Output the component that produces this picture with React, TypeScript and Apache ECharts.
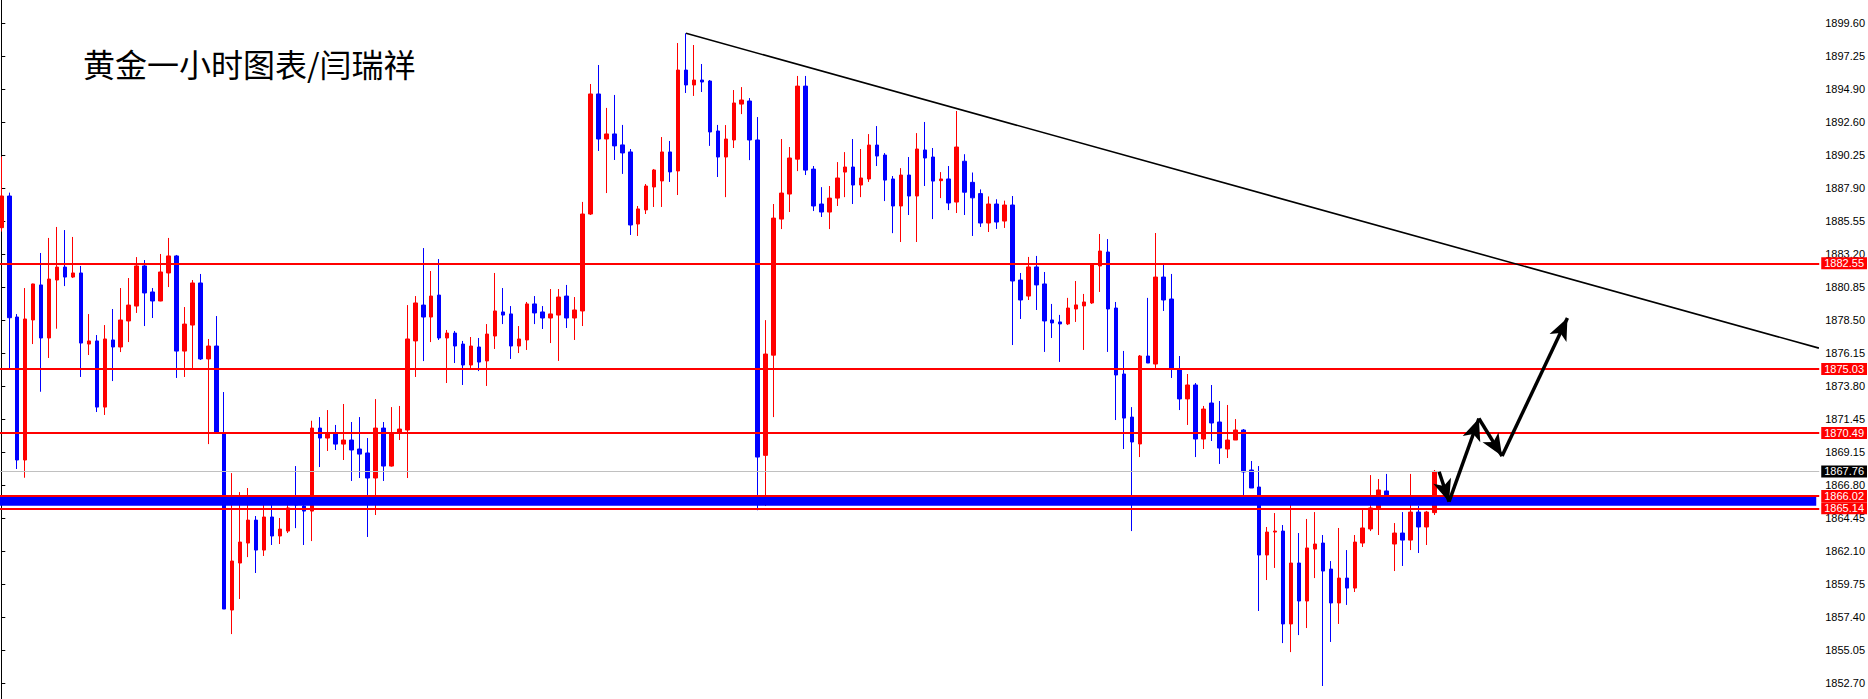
import React, { useEffect, useRef } from "react";
import * as echarts from "echarts";

// ---- Candle data (hourly gold) ----
const opens = [
  1885.08, 1887.33, 1878.73, 1868.57, 1878.52, 1881.01, 1877.24, 1881.36, 1882.28, 1881.57,
  1881.86, 1876.81, 1877.03, 1872.33, 1877.10, 1876.60, 1878.45, 1879.51, 1882.36, 1880.51,
  1879.87, 1881.86, 1883.07, 1876.31, 1878.16, 1881.15, 1875.75, 1876.67, 1870.49, 1857.91,
  1861.25, 1862.67, 1864.30, 1862.17, 1864.52, 1863.17, 1863.52, 1865.61, 1865.30, 1864.94,
  1870.84, 1870.13, 1870.49, 1869.70, 1869.99, 1869.35, 1869.07, 1867.29, 1870.84, 1868.14,
  1870.49, 1870.70, 1877.03, 1879.58, 1878.73, 1880.29, 1877.24, 1877.59, 1876.81, 1875.32,
  1876.60, 1875.61, 1877.38, 1879.09, 1878.95, 1876.67, 1877.10, 1879.66, 1879.09, 1878.66,
  1878.87, 1880.22, 1878.66, 1879.16, 1886.05, 1894.58, 1891.38, 1891.74, 1890.96, 1890.46,
  1885.34, 1886.34, 1887.97, 1888.40, 1890.46, 1889.11, 1896.28, 1895.22, 1895.57, 1895.50,
  1891.95, 1890.10, 1891.31, 1893.86, 1894.08, 1891.31, 1868.90, 1876.02, 1885.69, 1887.47,
  1889.95, 1895.14, 1889.24, 1886.76, 1886.19, 1887.18, 1889.03, 1889.39, 1888.11, 1888.54,
  1890.95, 1890.24, 1888.54, 1886.62, 1888.82, 1887.33, 1890.60, 1890.10, 1888.42, 1888.54,
  1886.90, 1889.80, 1888.30, 1887.50, 1885.41, 1886.76, 1885.55, 1886.69, 1881.36, 1880.22,
  1882.29, 1881.08, 1878.52, 1878.38, 1878.24, 1879.30, 1879.52, 1879.73, 1882.36, 1883.35,
  1879.37, 1874.68, 1871.62, 1869.71, 1875.96, 1875.39, 1881.57, 1880.01, 1875.04, 1872.91,
  1873.90, 1870.06, 1872.62, 1871.27, 1869.35, 1869.99, 1870.70, 1867.86, 1866.65, 1861.82,
  1863.45, 1863.52, 1856.92, 1861.25, 1858.55, 1862.24, 1862.67, 1860.82, 1858.41, 1860.18,
  1859.47, 1862.67, 1863.67, 1865.16, 1866.37, 1862.60, 1863.38, 1862.88, 1864.87, 1863.81,
  1864.83,
];

const closes = [
  1887.33, 1878.68, 1868.57, 1878.59, 1881.08, 1877.24, 1881.43, 1882.28, 1881.57, 1881.86,
  1876.88, 1877.03, 1872.33, 1877.17, 1876.60, 1878.52, 1879.58, 1882.36, 1880.44, 1879.87,
  1881.93, 1883.07, 1876.31, 1878.23, 1881.15, 1875.75, 1876.67, 1870.49, 1857.98, 1861.39,
  1862.74, 1864.30, 1862.17, 1864.52, 1863.17, 1863.66, 1865.16, 1865.37, 1864.94, 1870.84,
  1870.13, 1870.49, 1869.70, 1869.99, 1869.28, 1868.99, 1867.29, 1870.84, 1868.14, 1870.49,
  1870.77, 1877.17, 1879.73, 1878.73, 1880.22, 1877.24, 1877.59, 1876.67, 1875.32, 1876.67,
  1875.53, 1877.52, 1879.16, 1878.87, 1876.67, 1877.17, 1879.66, 1879.02, 1878.66, 1878.95,
  1880.15, 1878.66, 1879.23, 1886.05, 1894.58, 1891.38, 1891.74, 1890.89, 1890.39, 1885.27,
  1886.41, 1888.04, 1889.18, 1890.46, 1889.04, 1896.28, 1895.22, 1895.57, 1895.43, 1891.88,
  1890.10, 1891.38, 1893.94, 1894.15, 1891.31, 1868.78, 1876.10, 1885.76, 1887.54, 1890.03,
  1895.14, 1889.17, 1886.62, 1886.19, 1887.18, 1888.61, 1889.39, 1888.11, 1888.61, 1890.95,
  1890.17, 1888.46, 1886.62, 1888.82, 1887.33, 1890.67, 1890.03, 1888.39, 1888.54, 1886.83,
  1890.81, 1887.60, 1887.20, 1885.41, 1886.76, 1885.48, 1886.69, 1881.29, 1879.94, 1882.29,
  1881.01, 1878.45, 1878.31, 1878.24, 1879.37, 1879.59, 1879.80, 1882.43, 1883.42, 1879.30,
  1874.61, 1871.55, 1869.85, 1875.96, 1875.46, 1881.57, 1879.94, 1875.04, 1872.91, 1873.90,
  1870.06, 1872.19, 1871.20, 1869.42, 1869.99, 1870.70, 1867.72, 1866.58, 1861.82, 1863.45,
  1863.52, 1856.92, 1861.25, 1858.55, 1862.32, 1862.60, 1860.68, 1858.41, 1860.18, 1859.47,
  1862.74, 1863.74, 1865.16, 1866.44, 1866.08, 1863.38, 1862.88, 1864.87, 1863.81, 1864.87,
  1867.76,
];

const lows = [
  1884.80, 1875.08, 1867.93, 1867.31, 1876.81, 1873.42, 1875.82, 1877.90, 1880.93, 1881.50,
  1874.47, 1876.03, 1871.98, 1871.77, 1874.18, 1876.24, 1876.95, 1879.02, 1878.09, 1878.66,
  1879.85, 1880.86, 1874.40, 1874.47, 1875.04, 1875.68, 1869.70, 1870.49, 1857.98, 1856.20,
  1858.69, 1861.67, 1860.54, 1861.75, 1862.53, 1862.60, 1863.38, 1863.73, 1862.53, 1862.81,
  1868.07, 1869.21, 1869.28, 1868.57, 1867.08, 1867.29, 1863.10, 1864.66, 1867.08, 1868.10,
  1869.99, 1867.29, 1874.47, 1875.60, 1876.95, 1877.10, 1874.04, 1875.46, 1873.90, 1875.11,
  1874.89, 1873.83, 1876.46, 1878.23, 1875.75, 1876.17, 1876.39, 1878.23, 1877.88, 1876.88,
  1875.61, 1877.95, 1877.10, 1878.09, 1885.98, 1890.53, 1887.54, 1889.89, 1888.90, 1884.56,
  1884.49, 1886.05, 1886.55, 1886.55, 1888.33, 1887.40, 1894.65, 1894.44, 1894.72, 1890.89,
  1888.68, 1887.25, 1890.74, 1893.15, 1889.88, 1865.00, 1865.30, 1871.62, 1884.98, 1886.19,
  1889.10, 1888.82, 1886.26, 1885.84, 1884.98, 1886.62, 1887.25, 1886.76, 1887.25, 1888.33,
  1889.46, 1886.97, 1884.69, 1884.06, 1885.98, 1884.06, 1888.04, 1885.69, 1887.18, 1886.33,
  1886.12, 1885.98, 1884.49, 1885.13, 1884.77, 1884.99, 1885.06, 1876.74, 1878.59, 1879.94,
  1879.23, 1876.25, 1877.24, 1875.54, 1878.16, 1878.38, 1876.39, 1879.66, 1880.51, 1876.25,
  1871.41, 1869.35, 1863.52, 1868.78, 1875.46, 1875.11, 1879.16, 1874.40, 1872.12, 1871.06,
  1868.78, 1869.35, 1869.92, 1868.29, 1868.71, 1869.99, 1866.08, 1866.58, 1857.84, 1860.04,
  1860.90, 1855.56, 1854.92, 1856.13, 1856.63, 1860.18, 1852.51, 1855.64, 1856.92, 1858.27,
  1859.19, 1862.39, 1863.52, 1863.24, 1865.73, 1860.68, 1861.04, 1862.17, 1861.96, 1862.53,
  1864.66,
];

const highs = [
  1890.13, 1887.57, 1878.94, 1880.79, 1881.10, 1883.28, 1884.35, 1885.13, 1884.91, 1884.42,
  1882.36, 1878.94, 1877.45, 1878.16, 1879.30, 1880.79, 1881.50, 1882.99, 1882.78, 1880.79,
  1883.21, 1884.35, 1883.14, 1879.44, 1881.36, 1881.79, 1877.17, 1878.80, 1873.40, 1867.64,
  1866.29, 1866.58, 1864.59, 1865.51, 1865.37, 1864.45, 1865.87, 1868.14, 1865.50, 1871.36,
  1871.62, 1872.12, 1871.06, 1872.55, 1871.27, 1871.62, 1870.13, 1872.90, 1871.27, 1872.33,
  1872.41, 1879.58, 1880.22, 1883.63, 1882.00, 1882.85, 1877.81, 1877.74, 1877.03, 1877.31,
  1877.24, 1878.23, 1881.86, 1880.79, 1879.51, 1878.09, 1879.80, 1880.22, 1879.51, 1880.72,
  1880.72, 1881.01, 1880.15, 1886.91, 1895.29, 1896.64, 1893.59, 1894.51, 1892.38, 1890.67,
  1886.62, 1888.18, 1889.25, 1891.52, 1891.24, 1898.20, 1898.89, 1898.06, 1896.71, 1895.57,
  1892.38, 1892.37, 1894.86, 1895.07, 1894.29, 1892.94, 1878.51, 1886.76, 1891.38, 1890.81,
  1895.86, 1895.86, 1889.46, 1887.96, 1888.04, 1889.74, 1890.45, 1891.38, 1890.67, 1891.73,
  1892.30, 1890.38, 1888.75, 1889.31, 1890.10, 1891.80, 1892.59, 1890.74, 1889.03, 1889.46,
  1893.37, 1890.30, 1889.00, 1887.80, 1887.30, 1887.10, 1887.00, 1887.33, 1881.86, 1883.00,
  1883.07, 1881.93, 1879.66, 1878.88, 1880.09, 1881.29, 1880.37, 1882.50, 1884.63, 1884.27,
  1879.80, 1876.32, 1872.33, 1876.03, 1880.09, 1884.70, 1882.57, 1881.79, 1875.96, 1874.68,
  1874.04, 1872.41, 1873.90, 1872.76, 1872.48, 1871.48, 1870.77, 1868.50, 1868.14, 1863.81,
  1864.80, 1863.95, 1865.51, 1863.38, 1864.38, 1864.87, 1863.24, 1861.39, 1863.74, 1862.17,
  1863.24, 1865.16, 1867.50, 1867.22, 1867.58, 1864.09, 1864.87, 1867.58, 1865.30, 1864.95,
  1867.86,
];

// Price-axis tick labels
const yTickLabels = [
  "1852.70", "1855.05", "1857.40", "1859.75", "1862.10", "1864.45", "1866.80",
  "1869.15", "1871.45", "1873.80", "1876.15", "1878.50", "1880.85", "1883.20",
  "1885.55", "1887.90", "1890.25", "1892.60", "1894.90", "1897.25", "1899.60",
];

// Horizontal levels (red lines) and current bid
const levels = [1882.55, 1875.03, 1870.49, 1866.02, 1865.14];
const bidPrice = 1867.76;
// Blue zone between the two lower levels
const zone = [1865.32, 1865.96];
// Down trend line: [barIndex, price]
const trendLine = [
  [86, 1898.89],
  [228.3, 1876.52],
];
// Hand-drawn projection arrows: [barIndex, price]
const arrowPts = [
  [180.59, 1867.74],
  [181.84, 1865.61],
  [185.59, 1871.52],
  [188.5, 1868.85],
  [196.71, 1878.66],
];

const title = "黄金一小时图表/闫瑞祥";

const X_MIN = -0.1625;
const X_MAX = 228.3375;
const Y_MIN = 1851.587;
const Y_MAX = 1901.258;

const AXIS_FONT = '"Liberation Sans Narrow", "Liberation Sans", Arial, sans-serif';

export default function App() {
  const ref = useRef<HTMLDivElement>(null);

  useEffect(() => {
    if (!ref.current) return;
    const chart = echarts.init(ref.current, null, { renderer: "svg" });

    const candleData = opens.map((o, i) => [i, o, closes[i], lows[i], highs[i]]);
    const yTickValues = yTickLabels.map(Number);

    const priceLabel = (bg: string) => ({
      show: true,
      position: "end",
      distance: 2,
      color: "#ffffff",
      backgroundColor: bg,
      padding: [1, 3, 0, 3],
      fontSize: 11,
      lineHeight: 11,
      fontFamily: AXIS_FONT,
    });

    const levelLines = levels.map((v) => ({
      yAxis: v,
      lineStyle: { color: "#ff0000", width: 2, type: "solid" },
      label: { ...priceLabel("#ff0000"), formatter: v.toFixed(2) },
    }));

    const bidLine = {
      yAxis: bidPrice,
      lineStyle: { color: "#c0c0c0", width: 1, type: "solid" },
      label: { ...priceLabel("#000000"), formatter: bidPrice.toFixed(2) },
    };

    const trend = [
      {
        coord: trendLine[0],
        symbol: "none",
        lineStyle: { color: "#000000", width: 1.6, type: "solid" },
        label: { show: false },
      },
      { coord: trendLine[1], symbol: "none" },
    ];

    const arrows = [] as any[];
    for (let i = 0; i < arrowPts.length - 1; i++) {
      arrows.push([
        {
          coord: arrowPts[i],
          symbol: "none",
          lineStyle: { color: "#000000", width: 3.5, type: "solid" },
          label: { show: false },
        },
        { coord: arrowPts[i + 1], symbol: "arrow", symbolSize: [14, 22] },
      ]);
    }

    const option: any = {
      animation: false,
      backgroundColor: "#ffffff",
      grid: { left: 0, right: 40, top: 0, bottom: 0, containLabel: false },
      xAxis: {
        type: "value",
        min: X_MIN,
        max: X_MAX,
        show: false,
      },
      yAxis: {
        type: "value",
        position: "right",
        min: Y_MIN,
        max: Y_MAX,
        scale: true,
        splitLine: { show: false },
        axisLine: { show: true, lineStyle: { color: "#000000", width: 1 } },
        axisTick: {
          show: true,
          length: 4,
          customValues: yTickValues,
          lineStyle: { color: "#000000", width: 1 },
        },
        axisLabel: {
          show: true,
          customValues: yTickValues,
          formatter: (v: number) => v.toFixed(2),
          margin: 6,
          color: "#000000",
          fontSize: 11,
          fontFamily: AXIS_FONT,
        },
      },
      graphic: [
        {
          type: "text",
          x: 83,
          y: 63,
          style: {
            text: title,
            fill: "#000000",
            fontSize: 32,
            fontFamily: '"Noto Sans CJK SC", sans-serif',
            align: "left",
            verticalAlign: "middle",
          },
        },
      ],
      series: [
        {
          type: "candlestick",
          data: candleData,
          encode: { x: 0, y: [1, 2, 3, 4] },
          barWidth: 4,
          clip: true,
          itemStyle: {
            color: "#ff0000",
            color0: "#0000ff",
            borderColor: "#ff0000",
            borderColor0: "#0000ff",
            borderWidth: 1,
          },
          markArea: {
            silent: true,
            z: 3,
            itemStyle: { color: "#0000ff", opacity: 1 },
            data: [
              [
                { xAxis: X_MIN, yAxis: zone[0] },
                { xAxis: 227.96, yAxis: zone[1] },
              ],
            ],
          },
          markLine: {
            silent: true,
            symbol: "none",
            precision: 2,
            data: [...levelLines, bidLine, trend, ...arrows],
          },
        },
      ],
    };

    chart.setOption(option);
    return () => chart.dispose();
  }, []);

  return (
    <div
      ref={ref}
      style={{
        position: "fixed",
        left: 0,
        top: 0,
        width: 1868,
        height: 699,
        background: "#ffffff",
      }}
    />
  );
}
